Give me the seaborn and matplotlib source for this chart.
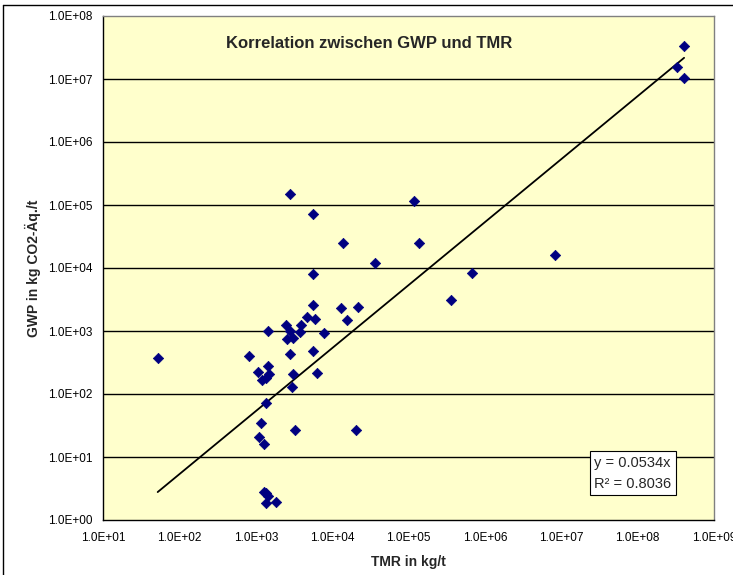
import matplotlib

matplotlib.use("Agg")

import matplotlib.pyplot as plt
import numpy as np
import pandas as pd
import seaborn as sns
from matplotlib.lines import Line2D
from matplotlib.ticker import FixedLocator, FuncFormatter, NullLocator


# TMR (kg/t) and GWP (kg CO2-Äq./t)
tmr = [52, 807, 1070, 1215, 1346, 1480, 1460, 1460, 1346, 1170,
       1100, 1267, 1267, 1346, 1445, 1346, 1853, 2510, 2530, 2810,
       2810, 2810, 2980, 3040, 3070, 3260, 3830, 3940, 4680, 5660,
       5660, 5660, 5900, 5660, 6270, 7820, 12900, 13700, 15800, 20300,
       22000, 36600, 116700, 138000, 356000, 676000, 8.4e6, 3.23e8, 4.06e8, 4.06e8]
gwp = [369, 401, 221, 167, 177, 206, 276, 1000, 71, 34.7,
       20.7, 16.3, 2.76, 2.65, 2.38, 1.88, 1.95, 1230, 755, 1000,
       427, 150000, 128, 207, 784, 26.5, 964, 1230, 1690, 72800,
       8100, 2560, 1570, 487, 215, 940, 2340, 25200, 1510, 26.5,
       2430, 11900, 117000, 24500, 3100, 8400, 16100, 1.53e7, 3.38e7, 1.05e7]

slope = 0.0534
r_squared = 0.8036
decades = [1e0, 1e1, 1e2, 1e3, 1e4, 1e5, 1e6, 1e7, 1e8, 1e9]


def fmt_sci(value: float, _pos: float) -> str:
    exp = int(round(np.log10(value)))
    return f"1.0E{exp:+03d}"


def main() -> None:
    sns.set_theme(style="white")
    plt.rcParams.update(
        {
            "font.family": ["Liberation Sans", "DejaVu Sans"],
            "axes.edgecolor": "#808080",
            "axes.linewidth": 1.0,
            "xtick.color": "#000000",
            "ytick.color": "#000000",
        }
    )
    df = pd.DataFrame({"tmr": tmr, "gwp": gwp})
    trend = pd.DataFrame({"tmr": [min(tmr), max(tmr)]})
    trend["gwp"] = slope * trend["tmr"]

    fig = plt.figure(figsize=(7.33, 5.75), dpi=100)
    ax = fig.add_axes([103 / 733, 1 - 520 / 575, 611 / 733, 504 / 575])
    ax.set_facecolor("#FFFFCC")
    ax.set_xscale("log")
    ax.set_yscale("log")
    ax.set_xlim(1e1, 1e9)
    ax.set_ylim(1e0, 1e8)

    for yv in decades[1:8]:
        ax.axhline(yv, color="#000000", linewidth=1.0, zorder=1)

    sns.lineplot(data=trend, x="tmr", y="gwp", color="#000000", linewidth=1.3, ax=ax, zorder=2)
    sns.scatterplot(data=df, x="tmr", y="gwp", marker="D", s=28, color="#000080",
                    edgecolor="#000080", linewidth=0.5, ax=ax, zorder=3)

    ax.xaxis.set_major_locator(FixedLocator(decades[1:]))
    ax.yaxis.set_major_locator(FixedLocator(decades[:9]))
    ax.xaxis.set_minor_locator(NullLocator())
    ax.yaxis.set_minor_locator(NullLocator())
    ax.xaxis.set_major_formatter(FuncFormatter(fmt_sci))
    ax.yaxis.set_major_formatter(FuncFormatter(fmt_sci))
    ax.tick_params(axis="both", which="major", direction="out", length=3, width=1,
                   color="#000000", labelsize=8.5, pad=4.3)
    ax.tick_params(axis="x", pad=5.5)

    for side in ["left", "bottom"]:
        ax.spines[side].set_color("#000000")

    ax.set_xlabel("TMR in kg/t", fontsize=10, fontweight="bold", labelpad=8)
    ax.set_ylabel("GWP in kg CO2-Äq./t", fontsize=10, fontweight="bold", labelpad=5)

    ax.text(0.436, 0.946, "Korrelation zwischen GWP und TMR", transform=ax.transAxes,
            ha="center", va="center", fontsize=12, fontweight="bold")
    ax.text(0.867, 0.093, f"y = {slope}x\nR² = {r_squared}", transform=ax.transAxes,
            ha="center", va="center", fontsize=10.5, linespacing=1.65,
            bbox=dict(boxstyle="square,pad=0.3", facecolor="white", edgecolor="#000000", linewidth=0.8))

    # outer chart frame
    fig.add_artist(Line2D([3 / 733, 1], [1 - 5 / 575, 1 - 5 / 575], color="#000000", linewidth=1.0))
    fig.add_artist(Line2D([3 / 733, 3 / 733], [0, 1 - 5 / 575], color="#000000", linewidth=1.0))

    fig.savefig("out.png", dpi=100, facecolor="white")
    plt.close(fig)


if __name__ == "__main__":
    main()
